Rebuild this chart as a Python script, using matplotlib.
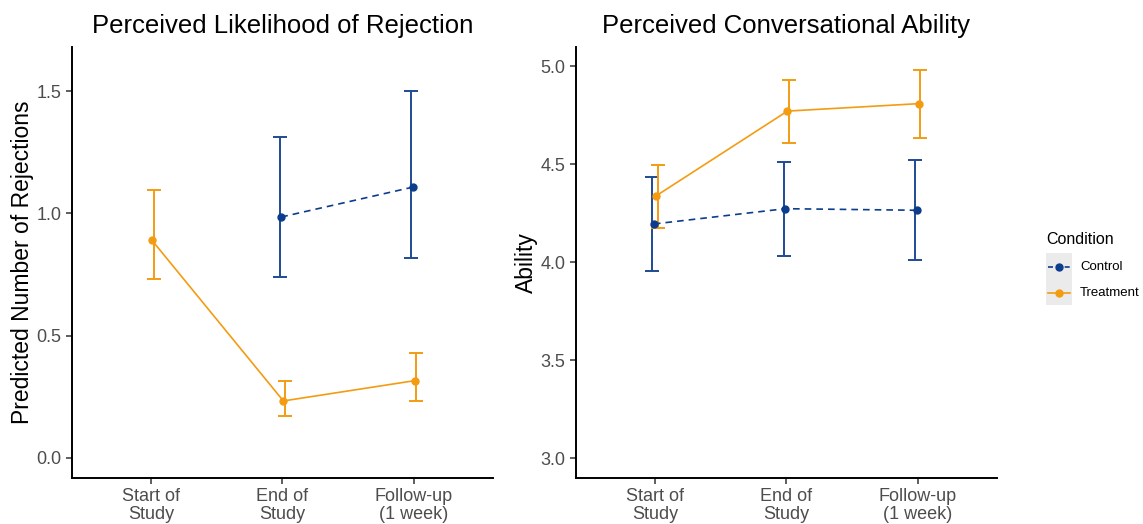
import matplotlib
matplotlib.use("Agg")
import matplotlib.pyplot as plt
from matplotlib.lines import Line2D
from matplotlib.patches import Rectangle
import numpy as np

plt.rcParams['font.family'] = ['Liberation Sans', 'DejaVu Sans']

timepoints = ['Start of\nStudy', 'End of\nStudy', 'Follow-up\n(1 week)']

# Perceived likelihood of rejection
rej_control = [np.nan, 0.985, 1.107]
rej_control_lo = [np.nan, 0.741, 0.819]
rej_control_hi = [np.nan, 1.312, 1.500]
rej_treat = [0.890, 0.233, 0.316]
rej_treat_lo = [0.730, 0.170, 0.234]
rej_treat_hi = [1.095, 0.313, 0.429]

# Perceived conversational ability
abl_control = [4.194, 4.272, 4.264]
abl_control_lo = [3.954, 4.032, 4.010]
abl_control_hi = [4.432, 4.512, 4.520]
abl_treat = [4.337, 4.770, 4.808]
abl_treat_lo = [4.175, 4.609, 4.633]
abl_treat_hi = [4.495, 4.930, 4.980]

orange = '#F39C12'
navy = '#0B3D8C'
navy_bar = '#1E4B94'
tick_gray = '#4D4D4D'

fig = plt.figure(figsize=(11.43, 5.24), dpi=100)
ax1 = fig.add_axes([0.063, 0.0878, 0.368, 0.8225])
ax2 = fig.add_axes([0.504, 0.0878, 0.368, 0.8225])

x = np.arange(1, 4)


def draw(ax, c, clo, chi, t, tlo, thi):
    c, clo, chi = map(np.asarray, (c, clo, chi))
    t, tlo, thi = map(np.asarray, (t, tlo, thi))
    ax.errorbar(x - 0.02, c, yerr=[c - clo, chi - c], fmt='none',
                ecolor=navy_bar, elinewidth=1.4, capsize=4.7, capthick=1.4)
    ax.errorbar(x + 0.02, t, yerr=[t - tlo, thi - t], fmt='none',
                ecolor=orange, elinewidth=1.4, capsize=4.7, capthick=1.4)
    ax.plot(x - 0.008, c, color=navy, ls=(0, (4, 3)), lw=1.2,
            marker='o', ms=5)
    ax.plot(x + 0.008, t, color=orange, lw=1.2, marker='o', ms=5)
    ax.set_xlim(0.4, 3.6)
    ax.set_xticks(x)
    ax.set_xticklabels(timepoints, linespacing=1.05)
    for s in ['top', 'right']:
        ax.spines[s].set_visible(False)
    for s in ['left', 'bottom']:
        ax.spines[s].set_linewidth(1.4)
    ax.tick_params(colors=tick_gray, labelsize=13, width=1.1, length=4)
    ax.tick_params(axis='both', color='#333333')


draw(ax1, rej_control, rej_control_lo, rej_control_hi,
     rej_treat, rej_treat_lo, rej_treat_hi)
ax1.set_ylim(-0.082, 1.68)
ax1.set_yticks([0.0, 0.5, 1.0, 1.5])
ax1.set_ylabel('Predicted Number of Rejections', fontsize=16.5, labelpad=2)
ax1.set_title('Perceived Likelihood of Rejection', fontsize=18.5, pad=10)

draw(ax2, abl_control, abl_control_lo, abl_control_hi,
     abl_treat, abl_treat_lo, abl_treat_hi)
ax2.set_ylim(2.898, 5.097)
ax2.set_yticks([3.0, 3.5, 4.0, 4.5, 5.0])
ax2.set_ylabel('Ability', fontsize=16.5, labelpad=2)
ax2.set_title('Perceived Conversational Ability', fontsize=18.5, pad=10)

# legend
W, H = 1143, 524
fig.text(1046 / W, 1 - 240 / H, 'Condition', fontsize=11.5, va='center')
fig.add_artist(Rectangle((1046 / W, 1 - 305 / H), 26 / W, 52 / H,
                         transform=fig.transFigure, facecolor='#EBEBEB',
                         edgecolor='none'))
for yy, col, ls, lab in [(267, navy, (0, (3, 2)), 'Control'),
                         (293, orange, '-', 'Treatment')]:
    fig.add_artist(Line2D([1048 / W, 1070 / W], [1 - yy / H] * 2,
                          transform=fig.transFigure, color=col, ls=ls,
                          lw=1.2))
    fig.add_artist(Line2D([1059 / W], [1 - yy / H],
                          transform=fig.transFigure, color=col, marker='o',
                          ms=5))
    fig.text(1080 / W, 1 - yy / H, lab, fontsize=9.5, va='center')

fig.savefig('out.png', dpi=100)
